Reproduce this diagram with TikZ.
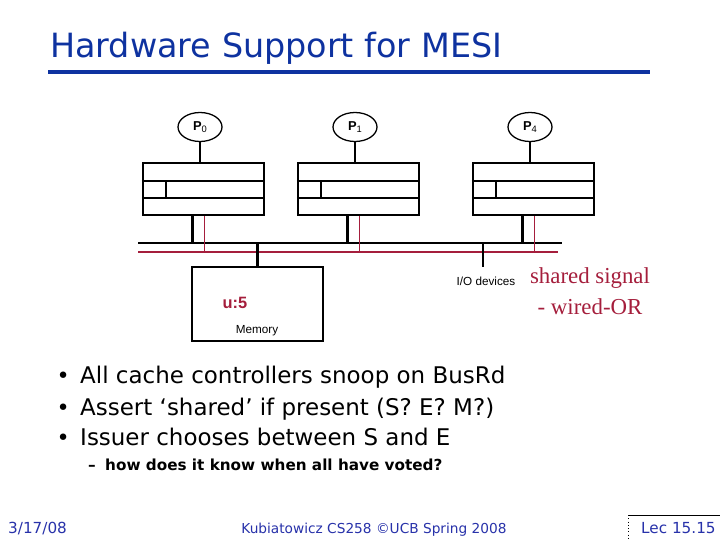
\documentclass[tikz,border=0pt]{standalone}
\usepackage{fontspec}
\setmainfont{DejaVu Sans}
\newfontfamily\arialfont{Liberation Sans}
\newfontfamily\timesfont{Liberation Serif}
\usetikzlibrary{shapes.geometric,positioning}
\definecolor{titleblue}{RGB}{14,50,160}
\definecolor{footblue}{RGB}{40,50,170}
\definecolor{wiredred}{RGB}{165,30,60}

\begin{document}
\begin{tikzpicture}[x=0.03cm,y=-0.03cm,
  proc/.style={draw,ellipse,line width=1.1pt,minimum width=1.32cm,minimum height=0.87cm,
    inner sep=0pt,font=\arialfont\fontsize{11}{11}\selectfont},
  cache/.style={draw,line width=1.8pt,minimum width=3.63cm,minimum height=1.56cm,inner sep=0pt},
  cacheline/.style={line width=1.8pt},
  bus/.style={line width=2.3pt},
  shared/.style={line width=1.3pt,draw=wiredred},
  bullet/.style={anchor=base west,inner sep=0pt,font=\fontsize{19.6}{19.6}\selectfont},
  small/.style={inner sep=0pt,font=\arialfont\fontsize{10}{10}\selectfont},
  foot/.style={anchor=base west,inner sep=0pt,text=footblue,font=\fontsize{13}{13}\selectfont}
]
  \useasboundingbox[fill=white] (0,0) rectangle (720,540);

  \node[anchor=base west,inner sep=0pt,text=titleblue,font=\fontsize{28.5}{28.5}\selectfont] (title) at (50,58)
    {Hardware Support for MESI};
  \draw[titleblue,line width=3.4pt] (48,72) coordinate (ruleL) -- (650,72) coordinate (ruleR);

  \node[proc] (p0) at (200,127) {\textbf{P}\raisebox{-0.4ex}{\footnotesize 0}};
  \node[proc] (p1) at (355,127) {\textbf{P}\raisebox{-0.4ex}{\footnotesize 1}};
  \node[proc] (p4) at (530,127) {\textbf{P}\raisebox{-0.4ex}{\footnotesize 4}};

  \node[cache] (c0) at (203.5,189) {};
  \node[cache] (c1) at (358.5,189) {};
  \node[cache] (c4) at (533.5,189) {};

  \coordinate (busL) at (138,243);
  \coordinate (busR) at (562,243);
  \coordinate (sharedL) at (138,252);
  \coordinate (sharedR) at (558,252);
  \draw[bus] (busL) -- (busR);
  \draw[shared] (sharedL) -- (sharedR);

  \foreach \p/\c in {p0/c0,p1/c1,p4/c4}{
    \draw[cacheline] (\p.south) -- (\p.south |- \c.north);
    \draw[cacheline] (\c.west) ++(0,-8) -- ++(121,0);
    \draw[cacheline] (\c.west) ++(0,9) -- ++(121,0);
    \draw[cacheline] (\c.west) ++(24,-8) -- ++(0,17);
    \draw[bus] (\c.south) ++(-11,0) coordinate (s) -- (s |- busL);
    \draw[shared] (\c.south) ++(1,0) coordinate (s) -- (s |- sharedL);
  }

  \node[draw,line width=0.9pt,minimum width=3.93cm,minimum height=2.22cm,inner sep=0pt] (mem) at (257.5,304) {};
  \draw[bus] (mem.north) -- (mem.north |- busL);
  \node[inner sep=0pt,text=wiredred,font=\arialfont\bfseries\fontsize{14}{14}\selectfont] (u5) at (235,303) {u:5};
  \node[small] (memlabel) at (257,331) {Memory};

  \coordinate (io) at (483,267);
  \draw[bus] (io) -- (io |- busL);
  \node[small] (iolabel) at (486,281) {I/O devices};

  \node[inner sep=0pt,align=center,text=wiredred,font=\timesfont\fontsize{19.5}{26}\selectfont] (wired) at (590,291)
    {shared signal\\- wired-OR};

  \node[bullet] (b1) at (80,384) {All cache controllers snoop on BusRd};
  \node[bullet] (b2) at (80,415) {Assert `shared' if present (S? E? M?)};
  \node[bullet] (b3) at (80,446) {Issuer chooses between S and E};
  \foreach \b in {b1,b2,b3}
    \node[inner sep=0pt,font=\fontsize{19}{19}\selectfont,anchor=base east] at ([xshift=-0.3cm]\b.base west) {\textbullet};
  \node[anchor=base west,inner sep=0pt,font=\bfseries\fontsize{13}{13}\selectfont] (sub) at (105,470)
    {how does it know when all have voted?};
  \node[anchor=base west,inner sep=0pt,font=\bfseries\fontsize{13}{13}\selectfont] (subdash) at (88,470) {--};

  \node[foot] (date) at (8,533) {3/17/08};
  \node[foot,anchor=base,font=\fontsize{11.7}{11.7}\selectfont] (credit) at (374,533) {Kubiatowicz CS258 \copyright UCB Spring 2008};
  \node[foot] (lec) at (641,533) {Lec 15.15};
  \draw[line width=0.8pt] (720,515) coordinate (boxR) -- (628,515) coordinate (boxL);
  \draw[line width=0.8pt,dotted] (boxL) -- (boxL |- 0,540);
\end{tikzpicture}
\end{document}
